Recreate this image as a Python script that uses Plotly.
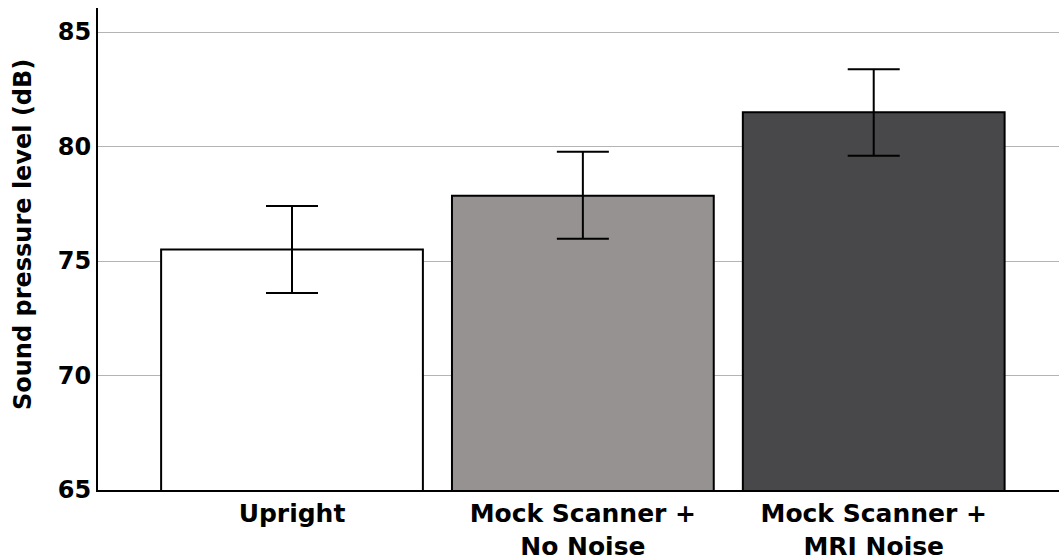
import plotly.graph_objects as go

categories = ["Upright", "Mock Scanner +<br>No Noise", "Mock Scanner +<br>MRI Noise"]
means = [75.5, 77.85, 81.5]
err_upper = [77.4, 79.77, 83.38]
err_lower = [73.6, 75.97, 79.6]
colors = ["#ffffff", "#959291", "#48484a"]
y_ticks = [65, 70, 75, 80, 85]
y_title = "Sound pressure level (dB)"

plus = [u - m for u, m in zip(err_upper, means)]
minus = [m - l for m, l in zip(means, err_lower)]

fig = go.Figure()
fig.add_trace(go.Bar(
    x=categories, y=means, width=0.9,
    marker=dict(color=colors, line=dict(color="black", width=2)),
    error_y=dict(type="data", symmetric=False, array=plus, arrayminus=minus,
                 color="black", thickness=2, width=26),
))

font = "DejaVu Sans, sans-serif"
fig.update_layout(
    width=1059, height=560,
    margin=dict(l=98, r=0, t=8, b=70, autoexpand=False),
    plot_bgcolor="white", paper_bgcolor="white",
    showlegend=False, bargap=0.1,
    font=dict(family=font, size=24, color="black"),
    xaxis=dict(range=[-0.667, 2.637], showline=True, linecolor="black", linewidth=2,
               ticks="", automargin=False, ticklabelstandoff=0,
               tickfont=dict(family=font, size=25, color="black", weight="bold"),
               showgrid=False, zeroline=False),
    yaxis=dict(range=[65, 86.05], tickvals=y_ticks, showline=True, linecolor="black",
               linewidth=2, ticks="", showgrid=True, gridcolor="#b4b4b4", gridwidth=1,
               zeroline=False, automargin=False,
               tickfont=dict(family=font, size=24, color="black", weight="bold")),
    annotations=[dict(text=y_title, textangle=-90, xref="paper", yref="paper",
                      x=0, y=0.529, xshift=-75, xanchor="center", yanchor="middle",
                      showarrow=False,
                      font=dict(family=font, size=24, color="black", weight="bold"))],
)
fig.write_html("out.html")
